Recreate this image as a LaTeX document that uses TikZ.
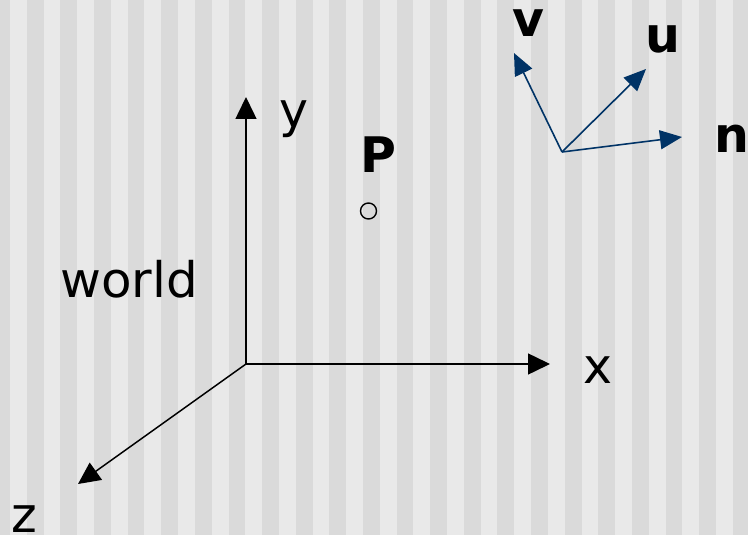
\documentclass[tikz,border=0pt]{standalone}
\usepackage{fontspec}
\setmainfont{DejaVu Sans}
\usetikzlibrary{arrows.meta}
\definecolor{stripedark}{RGB}{218,218,218}
\definecolor{stripelight}{RGB}{233,233,233}
\definecolor{axisblue}{RGB}{0,51,102}
\begin{document}
\begin{tikzpicture}[x=1pt,y=-1pt,
  blackaxis/.style={line width=1.5pt,black,-{Triangle[length=22pt,width=21pt]}},
  blueaxis/.style={line width=1.6pt,axisblue,-{Triangle[length=22pt,width=19pt]}},
  lbl/.style={inner sep=0pt,anchor=base west,font=\fontsize{49}{58}\selectfont},
  blbl/.style={inner sep=0pt,anchor=base west,font=\fontsize{49}{58}\selectfont\bfseries}]
\useasboundingbox (0,0) rectangle (748,535);
\fill[stripelight] (0,0) rectangle (748,535);
\foreach \k in {0,...,23}{
  \fill[stripedark] ({-6.81+\k*33.62},0) rectangle ({10+\k*33.62},535);
}
% world axes
\coordinate (O) at (246,364);
\coordinate (ytip) at (246,97);
\coordinate (xtip) at (550,364);
\coordinate (ztip) at (78,484);
\draw[blackaxis] (O) -- (ytip);
\draw[blackaxis] (O) -- (xtip);
\draw[blackaxis] (O) -- (ztip);
\node[lbl] (ylab) at (279,128) {y};
\node[lbl] (xlab) at (583,383) {x};
\node[lbl] (zlab) at (11,532) {z};
\node[lbl,xscale=1.02] (world) at (60,297) {world};
% point P
\node[blbl] (Plab) at (360,172) {P};
\node[circle,draw,line width=1.4pt,minimum size=16pt,inner sep=0pt] (P) at (368.5,211) {};
% camera axes
\coordinate (C) at (562,152);
\coordinate (vtip) at (514,53);
\coordinate (utip) at (646,69);
\coordinate (ntip) at (682,137);
\draw[blueaxis] (C) -- (vtip);
\draw[blueaxis] (C) -- (utip);
\draw[blueaxis] (C) -- (ntip);
\node[blbl] (vlab) at (512,37) {v};
\node[blbl] (ulab) at (645,53) {u};
\node[blbl] (nlab) at (714,153) {n};
\end{tikzpicture}
\end{document}
